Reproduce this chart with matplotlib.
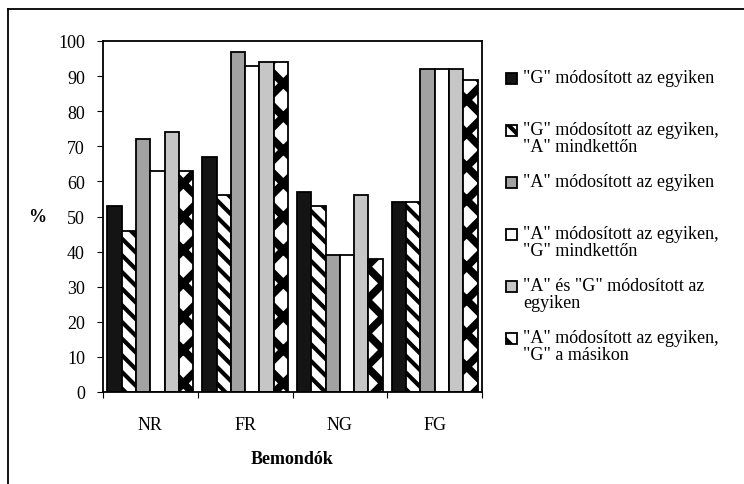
import matplotlib
matplotlib.use("Agg")
import matplotlib.pyplot as plt
import numpy as np
from matplotlib.patches import Rectangle
from matplotlib.legend_handler import HandlerPatch
from matplotlib.lines import Line2D

categories = ["NR", "FR", "NG", "FG"]
series_labels = [
    '"G" módosított az egyiken\n',
    '"G" módosított az egyiken,\n"A" mindkettőn',
    '"A" módosított az egyiken\n',
    '"A" módosított az egyiken,\n"G" mindkettőn',
    '"A" és "G" módosított az\negyiken',
    '"A" módosított az egyiken,\n"G" a másikon',
]
g_mod = [53, 67, 57, 54]
g_mod_a_both = [46, 56, 53, 54]
a_mod = [72, 97, 39, 92]
a_mod_g_both = [63, 93, 39, 92]
a_and_g_mod = [74, 94, 56, 92]
a_mod_g_other = [63, 94, 38, 89]
series_values = [g_mod, g_mod_a_both, a_mod, a_mod_g_both, a_and_g_mod, a_mod_g_other]
yticks = [0, 10, 20, 30, 40, 50, 60, 70, 80, 90, 100]

styles = [
    dict(facecolor="#141414", hatch=None, hlw=1.0),
    dict(facecolor="white", hatch="\\\\", hlw=3.0),
    dict(facecolor="#a2a2a2", hatch=None, hlw=1.0),
    dict(facecolor="white", hatch=None, hlw=1.0),
    dict(facecolor="#c6c6c6", hatch=None, hlw=1.0),
    dict(facecolor="white", hatch="x", hlw=5.5),
]

plt.rcParams["font.family"] = ["Liberation Serif", "DejaVu Serif"]
plt.rcParams["hatch.linewidth"] = 3.0

fig = plt.figure(figsize=(7.44, 4.85), dpi=100)
ax = fig.add_axes([103 / 744, 1 - 393 / 485, 379 / 744, 351 / 485])

x = np.arange(len(categories))
n = len(series_values)
bw = 0.151
handles = []
for i, (vals, st) in enumerate(zip(series_values, styles)):
    offs = (i - (n - 1) / 2) * bw
    with plt.rc_context({"hatch.linewidth": st["hlw"]}):
        bars = ax.bar(x + offs, vals, width=bw, facecolor=st["facecolor"],
                      edgecolor="black", linewidth=1.3, hatch=st["hatch"],
                      label=series_labels[i], zorder=2)
        for p in bars.patches:
            try:
                p.set_hatch_linewidth(st["hlw"])
            except AttributeError:
                pass
    handles.append(bars.patches[0])

ax.set_xlim(-0.5, 3.5)
ax.set_ylim(0, 100)
ax.set_yticks(yticks)
ax.set_xticks(x)
ax.set_xticklabels(categories)
ax.set_xticks(np.arange(-0.5, 4.0, 1.0), minor=True)
ax.tick_params(axis="x", which="major", length=0, pad=17, labelsize=13)
ax.tick_params(axis="x", which="minor", length=4, width=0.8, direction="out")
ax.tick_params(axis="y", length=4, width=0.8, pad=9, labelsize=13)
for sp in ax.spines.values():
    sp.set_linewidth(1.3)

ax.set_xlabel("Bemondók", fontsize=13, fontweight="bold", va="center")
ax.xaxis.set_label_coords(0.5, -0.19)
ax.set_ylabel("%", fontsize=13, fontweight="bold", rotation=0, va="center", ha="center")
ax.yaxis.set_label_coords(-0.174, 0.5)


def top_square(legend, orig_handle, xdescent, ydescent, width, height, fontsize):
    s = 8.0
    return Rectangle((-xdescent, -ydescent + height - s + 0.5), s, s)


leg = fig.legend(handles=handles, labels=series_labels, loc="upper left",
                 bbox_to_anchor=(497 / 744, 1 - 61 / 485), frameon=False,
                 fontsize=13, handlelength=0.6, handleheight=1.9,
                 handletextpad=0.35, labelspacing=1.0, borderpad=0,
                 handler_map={Rectangle: HandlerPatch(patch_func=top_square)})
for t in leg.get_texts():
    t.set_linespacing(1.0)

# outer frame (left and top edges; the rest lies outside the picture)
fig.add_artist(Line2D([8 / 744, 8 / 744], [0.0, 1 - 10 / 485],
                      transform=fig.transFigure, color="black", linewidth=1.3))
fig.add_artist(Line2D([8 / 744, 1.0], [1 - 10 / 485, 1 - 10 / 485],
                      transform=fig.transFigure, color="black", linewidth=1.3))

fig.savefig("out.png", dpi=100)
